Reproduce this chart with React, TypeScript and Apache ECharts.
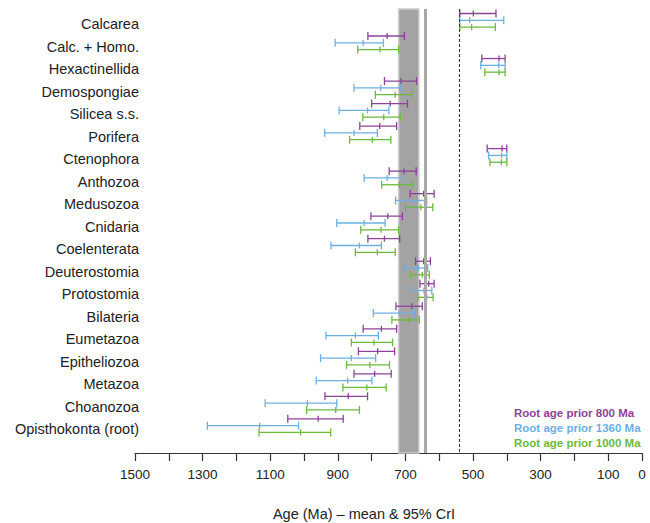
import React, { useEffect, useRef } from "react";
import * as echarts from "echarts";

const categories = [
  "Calcarea",
  "Calc. + Homo.",
  "Hexactinellida",
  "Demospongiae",
  "Silicea s.s.",
  "Porifera",
  "Ctenophora",
  "Anthozoa",
  "Medusozoa",
  "Cnidaria",
  "Coelenterata",
  "Deuterostomia",
  "Protostomia",
  "Bilateria",
  "Eumetazoa",
  "Epitheliozoa",
  "Metazoa",
  "Choanozoa",
  "Opisthokonta (root)",
];

// [older bound of 95% CrI, mean, younger bound] in Ma
const prior800: [number, number, number][] = [
  [539, 499, 432],
  [811, 754, 703],
  [474, 423, 405],
  [762, 713, 667],
  [800, 745, 694],
  [835, 776, 726],
  [458, 414, 400],
  [748, 704, 668],
  [686, 646, 615],
  [802, 752, 709],
  [811, 762, 717],
  [670, 646, 626],
  [657, 631, 615],
  [728, 681, 650],
  [825, 771, 726],
  [839, 782, 732],
  [852, 791, 742],
  [938, 869, 812],
  [1048, 958, 884],
];

const prior1360: [number, number, number][] = [
  [539, 510, 409],
  [908, 825, 765],
  [477, 424, 405],
  [852, 773, 716],
  [896, 812, 749],
  [939, 852, 783],
  [454, 415, 400],
  [822, 754, 711],
  [729, 676, 637],
  [903, 822, 760],
  [920, 836, 771],
  [704, 662, 634],
  [683, 645, 622],
  [795, 718, 672],
  [935, 848, 780],
  [951, 860, 788],
  [964, 871, 799],
  [1115, 990, 903],
  [1286, 1131, 1016],
];

const prior1000: [number, number, number][] = [
  [539, 504, 434],
  [841, 775, 720],
  [465, 423, 405],
  [789, 730, 681],
  [826, 764, 715],
  [865, 798, 743],
  [450, 416, 400],
  [770, 718, 680],
  [700, 654, 619],
  [832, 772, 720],
  [848, 783, 730],
  [684, 650, 629],
  [663, 637, 618],
  [740, 690, 659],
  [860, 793, 738],
  [874, 805, 747],
  [885, 814, 757],
  [992, 906, 836],
  [1133, 1010, 921],
];

const seriesNames = ["Root age prior 800 Ma", "Root age prior 1360 Ma", "Root age prior 1000 Ma"];
const seriesColors = ["#8e4399", "#6cb0e3", "#6cba3c"];

// reference events (Ma)
const sturtianBand: [number, number] = [720, 660];
const marinoanLine = 640;
const cambrianLine = 541;

const xTicks = { min: 0, max: 1500, step: 100 };

const FONT = "'Liberation Sans', Arial, Helvetica, sans-serif";

function makeRenderItem(color: string, offset: number) {
  return (params: any, api: any) => {
    const cat = api.value(0);
    const pOld = api.coord([api.value(1), cat]);
    const pMean = api.coord([api.value(2), cat]);
    const pYoung = api.coord([api.value(3), cat]);
    const y = pOld[1] + offset;
    const style = { stroke: color, lineWidth: 1.3, fill: null };
    const cap = 4;
    const mk = 3;
    return {
      type: "group",
      children: [
        { type: "line", shape: { x1: pOld[0], y1: y, x2: pYoung[0], y2: y }, style },
        { type: "line", shape: { x1: pOld[0], y1: y - cap, x2: pOld[0], y2: y + cap }, style },
        { type: "line", shape: { x1: pYoung[0], y1: y - cap, x2: pYoung[0], y2: y + cap }, style },
        { type: "line", shape: { x1: pMean[0], y1: y - mk, x2: pMean[0], y2: y + mk }, style },
      ],
    };
  };
}

export default function App() {
  const ref = useRef<HTMLDivElement>(null);

  useEffect(() => {
    if (!ref.current) return;
    const chart = echarts.init(ref.current, undefined, { renderer: "svg" });
    const all = [prior800, prior1360, prior1000];
    const offsets = [-10.5, -3.7, 3.1];

    const option: any = {
      animation: false,
      backgroundColor: "#ffffff",
      textStyle: { fontFamily: FONT },
      grid: {
        left: 135,
        right: 8,
        top: 9,
        bottom: 70,
        containLabel: false,
        outerBoundsMode: "none",
      },
      legend: {
        show: true,
        orient: "vertical",
        left: 509,
        top: 406,
        padding: 0,
        icon: "none",
        itemWidth: 0,
        itemHeight: 14,
        itemGap: 1,
        selectedMode: false,
        data: seriesNames.map((n, i) => ({
          name: n,
          textStyle: {
            color: seriesColors[i],
            fontSize: 11.5,
            fontWeight: "bold",
            fontFamily: FONT,
            lineHeight: 14,
          },
        })),
      },
      xAxis: {
        type: "value",
        position: "bottom",
        inverse: true,
        min: xTicks.min,
        max: xTicks.max,
        interval: xTicks.step,
        name: "Age (Ma) \u2013 mean & 95% CrI",
        nameLocation: "middle",
        nameGap: 53,
        nameTextStyle: {
          color: "#222",
          fontSize: 14.5,
          lineHeight: 15,
          fontFamily: FONT,
          padding: [0, 49, 0, 0],
        },
        axisLine: { show: true, onZero: false, lineStyle: { color: "#333", width: 1.2 } },
        axisTick: { show: true, length: 8, lineStyle: { color: "#333", width: 1.2 } },
        axisLabel: {
          show: true,
          margin: 14,
          color: "#222",
          fontSize: 13.5,
          fontFamily: FONT,
          showMinLabel: true,
          showMaxLabel: true,
          formatter: (v: number) => (v === 0 || v % 200 === 100 ? String(v) : ""),
        },
        splitLine: { show: false },
      },
      yAxis: {
        type: "value",
        inverse: true,
        min: -0.666,
        max: 19.05,
        axisLine: { show: false },
        axisTick: { show: false },
        splitLine: { show: false },
        axisLabel: {
          show: true,
          customValues: categories.map((_, i) => i),
          margin: -4,
          color: "#222",
          fontSize: 14.5,
          fontFamily: FONT,
          formatter: (v: number) => categories[Math.round(v)] ?? "",
        },
      },
      series: [
        {
          type: "line",
          name: "refs",
          data: [],
          z: 1,
          silent: true,
          markArea: {
            silent: true,
            itemStyle: { color: "#a3a3a3", borderColor: "#cdcdcd", borderWidth: 1.5 },
            label: { show: false },
            data: [[{ xAxis: sturtianBand[0] }, { xAxis: sturtianBand[1] }]],
          },
          markLine: {
            silent: true,
            symbol: ["none", "none"],
            label: { show: false },
            data: [
              { xAxis: marinoanLine, lineStyle: { color: "#a8a8a8", width: 3, type: "solid" } },
              { xAxis: cambrianLine, lineStyle: { color: "#333", width: 1, type: [3, 2] } },
            ],
          },
        },
        ...all.map((arr, si) => ({
          type: "custom",
          name: seriesNames[si],
          z: 3,
          itemStyle: { color: seriesColors[si] },
          renderItem: makeRenderItem(seriesColors[si], offsets[si]),
          encode: { x: [1, 2, 3], y: 0 },
          data: arr.map((d, i) => [i, d[0], d[1], d[2]]),
        })),
      ],
    };
    chart.setOption(option);
    return () => chart.dispose();
  }, []);

  return (
    <div
      ref={ref}
      style={{ position: "fixed", left: 0, top: 0, width: 650, height: 523, background: "#fff" }}
    />
  );
}
